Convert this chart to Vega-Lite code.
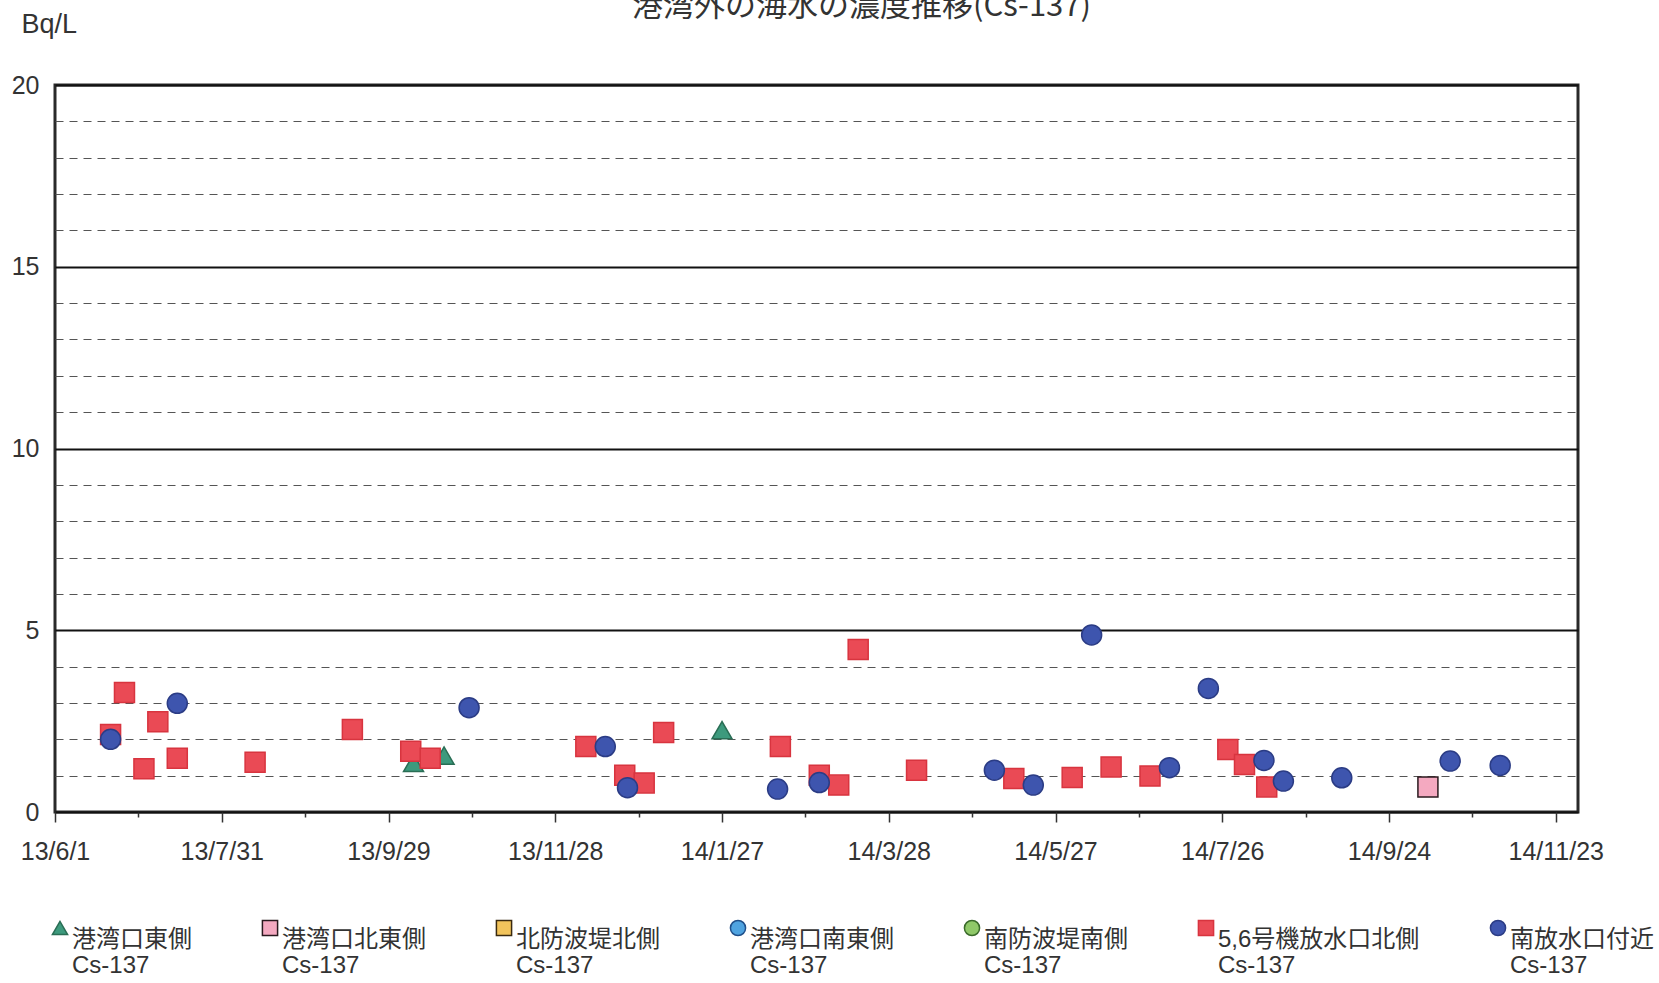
{
  "$schema": "https://vega.github.io/schema/vega-lite/v6.json",
  "width": 1523,
  "height": 727,
  "autosize": {"type": "none"},
  "padding": {"left": 55, "top": 85, "right": 81, "bottom": 171},
  "background": "white",
  "title": {
    "text": "港湾外の海水の濃度推移(Cs-137)",
    "fontSize": 31,
    "font": "Noto Sans CJK JP",
    "fontWeight": "normal",
    "color": "#333333",
    "anchor": "middle",
    "frame": "group",
    "dx": 45,
    "offset": -13
  },
  "data": {
    "values": [
      {"d": "2013-10-08", "v": 1.35, "s": "港湾口東側"},
      {"d": "2013-10-19", "v": 1.55, "s": "港湾口東側"},
      {"d": "2014-01-27", "v": 2.25, "s": "港湾口東側"},
      {"d": "2014-10-08", "v": 0.69, "s": "港湾口北東側"},
      {"d": "2013-06-21", "v": 2.13, "s": "5,6号機放水口北側"},
      {"d": "2013-06-26", "v": 3.29, "s": "5,6号機放水口北側"},
      {"d": "2013-07-03", "v": 1.19, "s": "5,6号機放水口北側"},
      {"d": "2013-07-08", "v": 2.48, "s": "5,6号機放水口北側"},
      {"d": "2013-07-15", "v": 1.48, "s": "5,6号機放水口北側"},
      {"d": "2013-08-12", "v": 1.37, "s": "5,6号機放水口北側"},
      {"d": "2013-09-16", "v": 2.27, "s": "5,6号機放水口北側"},
      {"d": "2013-10-07", "v": 1.67, "s": "5,6号機放水口北側"},
      {"d": "2013-10-14", "v": 1.48, "s": "5,6号機放水口北側"},
      {"d": "2013-12-09", "v": 1.80, "s": "5,6号機放水口北側"},
      {"d": "2013-12-23", "v": 1.01, "s": "5,6号機放水口北側"},
      {"d": "2013-12-30", "v": 0.80, "s": "5,6号機放水口北側"},
      {"d": "2014-01-06", "v": 2.19, "s": "5,6号機放水口北側"},
      {"d": "2014-02-17", "v": 1.80, "s": "5,6号機放水口北側"},
      {"d": "2014-03-03", "v": 1.01, "s": "5,6号機放水口北側"},
      {"d": "2014-03-10", "v": 0.74, "s": "5,6号機放水口北側"},
      {"d": "2014-03-17", "v": 4.47, "s": "5,6号機放水口北側"},
      {"d": "2014-04-07", "v": 1.15, "s": "5,6号機放水口北側"},
      {"d": "2014-05-12", "v": 0.92, "s": "5,6号機放水口北側"},
      {"d": "2014-06-02", "v": 0.95, "s": "5,6号機放水口北側"},
      {"d": "2014-06-16", "v": 1.24, "s": "5,6号機放水口北側"},
      {"d": "2014-06-30", "v": 0.99, "s": "5,6号機放水口北側"},
      {"d": "2014-07-28", "v": 1.72, "s": "5,6号機放水口北側"},
      {"d": "2014-08-03", "v": 1.31, "s": "5,6号機放水口北側"},
      {"d": "2014-08-11", "v": 0.69, "s": "5,6号機放水口北側"},
      {"d": "2013-06-21", "v": 2.00, "s": "南放水口付近"},
      {"d": "2013-07-15", "v": 2.99, "s": "南放水口付近"},
      {"d": "2013-10-28", "v": 2.87, "s": "南放水口付近"},
      {"d": "2013-12-16", "v": 1.80, "s": "南放水口付近"},
      {"d": "2013-12-24", "v": 0.67, "s": "南放水口付近"},
      {"d": "2014-02-16", "v": 0.63, "s": "南放水口付近"},
      {"d": "2014-03-03", "v": 0.81, "s": "南放水口付近"},
      {"d": "2014-05-05", "v": 1.15, "s": "南放水口付近"},
      {"d": "2014-05-19", "v": 0.74, "s": "南放水口付近"},
      {"d": "2014-06-09", "v": 4.87, "s": "南放水口付近"},
      {"d": "2014-07-07", "v": 1.22, "s": "南放水口付近"},
      {"d": "2014-07-21", "v": 3.40, "s": "南放水口付近"},
      {"d": "2014-08-10", "v": 1.42, "s": "南放水口付近"},
      {"d": "2014-08-17", "v": 0.85, "s": "南放水口付近"},
      {"d": "2014-09-07", "v": 0.94, "s": "南放水口付近"},
      {"d": "2014-10-16", "v": 1.40, "s": "南放水口付近"},
      {"d": "2014-11-03", "v": 1.28, "s": "南放水口付近"}
    ]
  },
  "mark": {"type": "point", "filled": true, "size": 400, "strokeWidth": 1.5, "opacity": 1},
  "encoding": {
    "x": {
      "field": "d",
      "type": "temporal",
      "scale": {
        "type": "utc",
        "domain": [
          {"year": 2013, "month": 6, "date": 1, "utc": true},
          {"year": 2014, "month": 12, "date": 1, "utc": true}
        ]
      },
      "axis": {
        "title": null,
        "values": [
          {"year": 2013, "month": 6, "date": 1, "utc": true},
          {"year": 2013, "month": 7, "date": 1, "utc": true},
          {"year": 2013, "month": 7, "date": 31, "utc": true},
          {"year": 2013, "month": 8, "date": 30, "utc": true},
          {"year": 2013, "month": 9, "date": 29, "utc": true},
          {"year": 2013, "month": 10, "date": 29, "utc": true},
          {"year": 2013, "month": 11, "date": 28, "utc": true},
          {"year": 2013, "month": 12, "date": 28, "utc": true},
          {"year": 2014, "month": 1, "date": 27, "utc": true},
          {"year": 2014, "month": 2, "date": 26, "utc": true},
          {"year": 2014, "month": 3, "date": 28, "utc": true},
          {"year": 2014, "month": 4, "date": 27, "utc": true},
          {"year": 2014, "month": 5, "date": 27, "utc": true},
          {"year": 2014, "month": 6, "date": 26, "utc": true},
          {"year": 2014, "month": 7, "date": 26, "utc": true},
          {"year": 2014, "month": 8, "date": 25, "utc": true},
          {"year": 2014, "month": 9, "date": 24, "utc": true},
          {"year": 2014, "month": 10, "date": 24, "utc": true},
          {"year": 2014, "month": 11, "date": 23, "utc": true}
        ],
        "format": "%y/%-m/%-d",
        "labelExpr": "round((datum.value - utc(2013,5,1))/86400000) % 60 === 0 ? datum.label : ''",
        "grid": false,
        "domain": false,
        "ticks": true,
        "tickColor": "#333333",
        "tickWidth": 1.5,
        "tickSize": {"condition": {"test": "round((datum.value - utc(2013,5,1))/86400000) % 60 === 0", "value": 10}, "value": 5},
        "labelFontSize": 25,
        "labelColor": "#333333",
        "labelPadding": 17,
        "labelOverlap": false,
        "labelBound": false,
        "labelFlush": false
      }
    },
    "y": {
      "field": "v",
      "type": "quantitative",
      "scale": {"domain": [0, 20], "nice": false},
      "axis": {
        "values": [0,1,2,3,4,5,6,7,8,9,10,11,12,13,14,15,16,17,18,19,20],
        "labelExpr": "datum.value % 5 === 0 ? datum.label : ''",
        "grid": true,
        "gridColor": {"condition": {"test": "datum.value % 5 === 0", "value": "#111111"}, "value": "#555555"},
        "gridDash": {"condition": {"test": "datum.value % 5 === 0", "value": []}, "value": [8, 6]},
        "gridWidth": {"condition": {"test": "datum.value % 5 === 0", "value": 2}, "value": 1},
        "ticks": false,
        "domain": false,
        "labelPadding": 16,
        "labelFontSize": 25,
        "labelColor": "#333333",
        "title": "Bq/L",
        "titleAngle": 0,
        "titleAlign": "left",
        "titleBaseline": "middle",
        "titleX": -34,
        "titleY": -61,
        "titleFontSize": 27,
        "titleFontWeight": "normal",
        "titleColor": "#333333"
      }
    },
    "color": {
      "field": "s",
      "type": "nominal",
      "scale": {
        "domain": ["港湾口東側", "港湾口北東側", "北防波堤北側", "港湾口南東側", "南防波堤南側", "5,6号機放水口北側", "南放水口付近"],
        "range": ["#3d9a7d", "#f4a9c0", "#f2c45c", "#4fa3e0", "#8fc868", "#ea4a55", "#3e55ae"]
      },
      "legend": {"title": null, "labelExpr": "[datum.label, 'Cs-137']"}
    },
    "shape": {
      "field": "s",
      "type": "nominal",
      "scale": {
        "domain": ["港湾口東側", "港湾口北東側", "北防波堤北側", "港湾口南東側", "南防波堤南側", "5,6号機放水口北側", "南放水口付近"],
        "range": ["triangle-up", "square", "square", "circle", "circle", "square", "circle"]
      },
      "legend": {"title": null, "labelExpr": "[datum.label, 'Cs-137']"}
    },
    "stroke": {
      "field": "s",
      "type": "nominal",
      "scale": {
        "domain": ["港湾口東側", "港湾口北東側", "北防波堤北側", "港湾口南東側", "南防波堤南側", "5,6号機放水口北側", "南放水口付近"],
        "range": ["#2a6e55", "#2a1a1e", "#3a2a10", "#1f4f8a", "#3a6a2a", "#d8343f", "#2b3c85"]
      },
      "legend": {"title": null, "labelExpr": "[datum.label, 'Cs-137']"}
    }
  },
  "config": {
    "font": "Liberation Sans, Noto Sans CJK JP, sans-serif",
    "view": {"stroke": "#2a2a2a", "strokeWidth": 3},
    "legend": {
      "orient": "none",
      "legendX": -7,
      "legendY": 831,
      "direction": "horizontal",
      "columns": 7,
      "columnPadding": 66,
      "labelFontSize": 24,
      "labelLineHeight": 30,
      "labelColor": "#333333",
      "labelLimit": 400,
      "labelOffset": 0,
      "labelBaseline": "top",
      "symbolSize": 230,
      "symbolStrokeWidth": 1.5
    }
  }
}
